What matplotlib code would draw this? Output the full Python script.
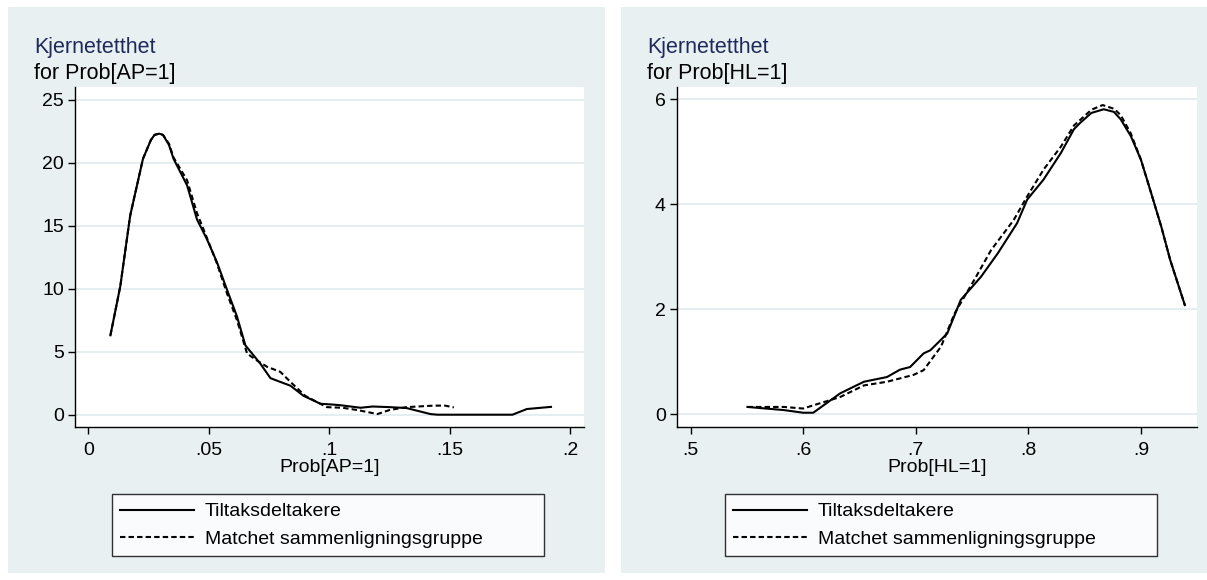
import matplotlib
matplotlib.use("Agg")
import matplotlib.pyplot as plt
from matplotlib.patches import Rectangle

plt.rcParams["font.family"] = ["Liberation Sans", "DejaVu Sans"]

W, H = 1207, 580
PANEL_BG = "#e9f0f2"
GRID = "#e3ecef"
TITLE_COLOR = "#1e2b5a"

LABELS = ["Tiltaksdeltakere", "Matchet sammenligningsgruppe"]

# Prob[AP=1]
ap_x_treat = [0.0092, 0.0133, 0.0174, 0.0227, 0.0260, 0.0275, 0.0295, 0.0310,
              0.0335, 0.0354, 0.0410, 0.0451, 0.0493, 0.0534, 0.0576, 0.0617,
              0.0652, 0.0714, 0.0756, 0.0797, 0.0839, 0.0893, 0.0963, 0.1017,
              0.1047, 0.1130, 0.1180, 0.1250, 0.1320, 0.1420, 0.1450, 0.1760,
              0.1820, 0.1920]
ap_y_treat = [6.3, 10.2, 15.8, 20.3, 21.8, 22.2, 22.3, 22.2,
              21.4, 20.3, 18.2, 15.5, 13.9, 12.1, 9.9, 7.8,
              5.5, 4.05, 2.9, 2.6, 2.3, 1.5, 0.87, 0.8,
              0.75, 0.55, 0.65, 0.6, 0.53, 0.05, 0.0, 0.0,
              0.45, 0.62]
ap_x_match = [0.0092, 0.0133, 0.0174, 0.0227, 0.0260, 0.0275, 0.0295, 0.0310,
              0.0335, 0.0354, 0.0410, 0.0451, 0.0493, 0.0534, 0.0576, 0.0617,
              0.0659, 0.0700, 0.0742, 0.0797, 0.0839, 0.0900, 0.0990, 0.1055,
              0.1090, 0.1130, 0.1200, 0.1250, 0.1320, 0.1434, 0.1480, 0.1517]
ap_y_match = [6.3, 10.2, 15.8, 20.3, 21.8, 22.2, 22.3, 22.2,
              21.5, 20.4, 18.6, 16.0, 14.0, 12.0, 9.6, 7.5,
              4.85, 4.3, 3.8, 3.4, 2.6, 1.5, 0.6, 0.55,
              0.45, 0.32, 0.05, 0.37, 0.6, 0.72, 0.72, 0.58]

# Prob[HL=1]
hl_x_treat = [0.5506, 0.583, 0.600, 0.609, 0.633, 0.654, 0.6745, 0.686,
              0.695, 0.707, 0.713, 0.722, 0.728, 0.740, 0.758, 0.773,
              0.790, 0.799, 0.8135, 0.829, 0.8405, 0.846, 0.856, 0.867,
              0.876, 0.882, 0.891, 0.900, 0.909, 0.918, 0.926, 0.939]
hl_y_treat = [0.14, 0.08, 0.03, 0.03, 0.4, 0.62, 0.71, 0.85,
              0.9, 1.16, 1.22, 1.41, 1.54, 2.18, 2.62, 3.07,
              3.64, 4.09, 4.47, 4.98, 5.43, 5.55, 5.74, 5.81,
              5.76, 5.62, 5.3, 4.85, 4.22, 3.58, 2.94, 2.08]
hl_x_match = [0.5506, 0.583, 0.600, 0.633, 0.654, 0.6745, 0.698, 0.707,
              0.7225, 0.7345, 0.752, 0.767, 0.787, 0.799, 0.8135, 0.829,
              0.8405, 0.856, 0.866, 0.876, 0.882, 0.891, 0.900, 0.909,
              0.918, 0.926, 0.939]
hl_y_match = [0.14, 0.14, 0.11, 0.33, 0.55, 0.62, 0.75, 0.84,
              1.29, 1.92, 2.56, 3.13, 3.7, 4.15, 4.66, 5.1,
              5.5, 5.8, 5.89, 5.82, 5.7, 5.35, 4.85, 4.22,
              3.58, 2.94, 2.08]

ap_ticks = [0, 0.05, 0.1, 0.15, 0.2]
ap_ticklabels = ["0", ".05", ".1", ".15", ".2"]
ap_yticks = [0, 5, 10, 15, 20, 25]
hl_ticks = [0.5, 0.6, 0.7, 0.8, 0.9]
hl_ticklabels = [".5", ".6", ".7", ".8", ".9"]
hl_yticks = [0, 2, 4, 6]


def fx(px):
    return px / W


def fy(py):
    return 1 - py / H


def panel(fig, x0, x1, ax_x0, ax_x1, xlim, ylim, xticks, xticklabels,
          yticks, series, xlabel, subtitle):
    fig.patches.append(Rectangle((fx(x0), fy(573)), fx(x1 - x0), 566 / H,
                                 transform=fig.transFigure,
                                 facecolor=PANEL_BG, edgecolor="none",
                                 zorder=-5))
    ax = fig.add_axes([fx(ax_x0), fy(427), fx(ax_x1 - ax_x0), 340 / H])
    ax.set_facecolor("white")
    for side in ("top", "right"):
        ax.spines[side].set_visible(False)
    for side in ("left", "bottom"):
        ax.spines[side].set_linewidth(1.0)
    ax.set_xlim(*xlim)
    ax.set_ylim(*ylim)
    ax.set_xticks(xticks)
    ax.set_xticklabels(xticklabels)
    ax.set_yticks(yticks)
    ax.tick_params(length=5, width=1.0, labelsize=14, pad=3)
    ax.tick_params(axis="x", pad=6)
    ax.yaxis.grid(True, color=GRID, linewidth=1.3)
    ax.set_axisbelow(True)

    (xs, ys), (xm, ym) = series
    ax.plot(xs, ys, color="black", linewidth=1.5, label=LABELS[0])
    ax.plot(xm, ym, color="black", linewidth=1.5, dashes=(2.6, 1.5),
            label=LABELS[1])

    ax.set_xlabel(xlabel, fontsize=14, labelpad=0)

    width = ax_x1 - ax_x0
    lx0 = (x0 + 103.5 - ax_x0) / width
    lx1 = (x0 + 536 - ax_x0) / width
    leg = ax.legend(loc="upper left", mode="expand",
                    bbox_to_anchor=(lx0, (427 - 494) / 340, lx1 - lx0, 0),
                    bbox_transform=ax.transAxes, fontsize=14,
                    handlelength=3.8, handletextpad=0.55, labelspacing=0.5,
                    borderpad=0.45, borderaxespad=0, frameon=True,
                    fancybox=False)
    leg.get_frame().set_edgecolor("black")
    leg.get_frame().set_linewidth(1.0)

    fig.text(fx(x0 + 26), fy(47), "Kjernetetthet", fontsize=15.5,
             color=TITLE_COLOR, ha="left", va="center")
    fig.text(fx(x0 + 26), fy(73), subtitle, fontsize=15.5, color="black",
             ha="left", va="center")
    return ax


fig = plt.figure(figsize=(W / 100, H / 100), dpi=100)
fig.patch.set_facecolor("white")

panel(fig, 8, 605, 75, 584, (-0.0055, 0.2057), (-0.976, 26.0),
      ap_ticks, ap_ticklabels, ap_yticks,
      ((ap_x_treat, ap_y_treat), (ap_x_match, ap_y_match)),
      "Prob[AP=1]", "for Prob[AP=1]")
panel(fig, 621, 1207, 677, 1197, (0.488, 0.9498), (-0.242, 6.234),
      hl_ticks, hl_ticklabels, hl_yticks,
      ((hl_x_treat, hl_y_treat), (hl_x_match, hl_y_match)),
      "Prob[HL=1]", "for Prob[HL=1]")

fig.savefig("out.png", dpi=100)
